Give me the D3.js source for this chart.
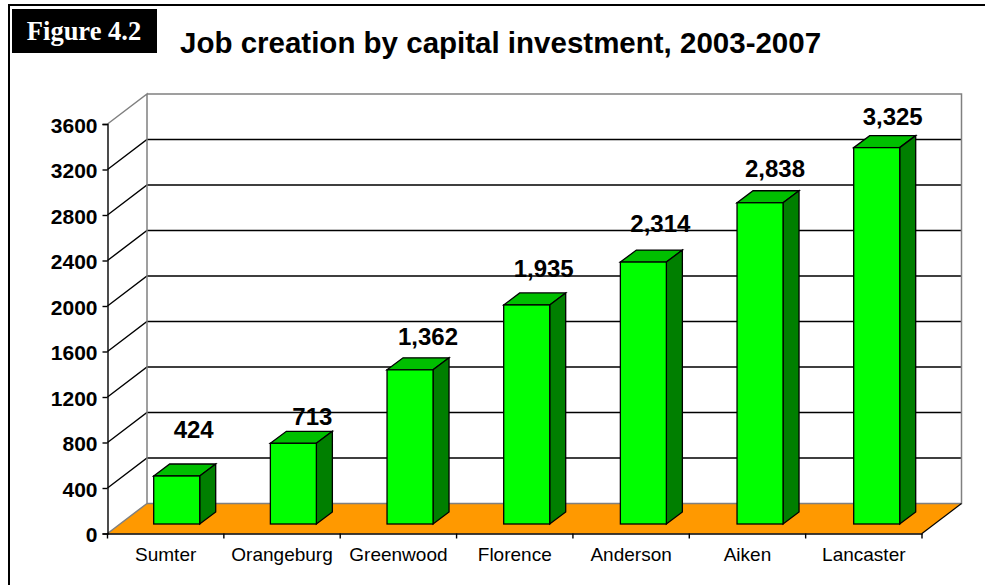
<!DOCTYPE html>
<html>
<head>
<meta charset="utf-8">
<script src="https://cdn.jsdelivr.net/npm/d3@7/dist/d3.min.js"></script>
<style>
html, body { margin: 0; padding: 0; background: #fff; }
svg { display: block; }
text { font-family: "Liberation Sans", Arial, sans-serif; fill: #000; }
</style>
</head>
<body>
<svg id="chart" width="985" height="585"></svg>
<script>
const counties = ["Sumter", "Orangeburg", "Greenwood", "Florence", "Anderson", "Aiken", "Lancaster"];
const jobs = [424, 713, 1362, 1935, 2314, 2838, 3325];
const yTicks = [0, 400, 800, 1200, 1600, 2000, 2400, 2800, 3200, 3600];

// Per-bar hand placement of the value labels
const labelLift = [38, 18, 25, 28, 30, 26, 23];
const labelShift = [0, 2, 1, 0, 0, -2, -1];

const svg = d3.select("#chart");
const depth = { dx: 39.5, dy: -30 };
const barDepth = { dx: 16, dy: -12 };
const barWidth = 46;

const x = d3.scaleBand().domain(counties).range([107.5, 922]);
const y = d3.scaleLinear().domain([0, 3600]).range([533.5, 124]);
const barX = d3.scalePoint().domain(counties).range([153.7, 853.7]);
const barY = d3.scaleLinear().domain([0, 3600]).range([524, 116.5]);
const fmt = d3.format(",");

// Page frame and figure tag
svg.append("path").attr("d", "M9,585V5H985").attr("fill", "none").attr("stroke", "#000").attr("stroke-width", 2);
svg.append("rect").attr("x", 12).attr("y", 9).attr("width", 145).attr("height", 44).attr("fill", "#000");
svg.append("text").attr("x", 84).attr("y", 40).attr("text-anchor", "middle")
  .style("font-family", "'Liberation Serif', serif")
  .attr("font-weight", "bold").attr("font-size", 26.5).style("fill", "#fff").text("Figure 4.2");
svg.append("text").attr("x", 180).attr("y", 53).attr("font-weight", "bold").attr("font-size", 29.5)
  .text("Job creation by capital investment, 2003-2007");

const x0 = x.range()[0], x1 = x.range()[1];
const y0 = y(0), yTop = y(3600);

// Floor
svg.append("path")
  .attr("d", `M${x0},${y0}L${x0 + depth.dx},${y0 + depth.dy}H${x1 + depth.dx}L${x1},${y0}Z`)
  .attr("fill", "#ff9900");

// Gridlines on the side and back walls
const grid = svg.append("g");
yTicks.filter(t => t > 0 && t < 3600).forEach(t => {
  grid.append("path")
    .attr("d", `M${x0},${y(t)}l${depth.dx},${depth.dy}H${x1 + depth.dx}`)
    .attr("fill", "none").attr("stroke", "#000").attr("stroke-width", 1.4);
});

// Wall outlines
svg.append("path")
  .attr("d", `M${x0},${y0}L${x0 + depth.dx},${y0 + depth.dy}V${yTop + depth.dy}L${x0},${yTop}
              M${x0 + depth.dx},${yTop + depth.dy}H${x1 + depth.dx}V${y0 + depth.dy}H${x0 + depth.dx}`)
  .attr("fill", "none").attr("stroke", "#808080").attr("stroke-width", 1.5);

// Front-right edge of the floor
svg.append("path").attr("d", `M${x1},${y0}L${x1 + depth.dx},${y0 + depth.dy}`)
  .attr("fill", "none").attr("stroke", "#000").attr("stroke-width", 1.2);

// Bars drawn as three faces
const bars = svg.append("g").selectAll("g").data(counties).join("g");
const faceStyle = sel => sel.attr("stroke", "#000").attr("stroke-width", 1.3).attr("stroke-linejoin", "miter");
bars.each(function (c, i) {
  const g = d3.select(this);
  const l = barX(c), r = l + barWidth, t = barY(jobs[i]), b = barY(0);
  g.append("path").attr("d", `M${l},${t}l${barDepth.dx},${barDepth.dy}H${r + barDepth.dx}L${r},${t}Z`)
    .attr("fill", "#00bf00").call(faceStyle);
  g.append("path").attr("d", `M${r},${t}l${barDepth.dx},${barDepth.dy}V${b + barDepth.dy}L${r},${b}Z`)
    .attr("fill", "#007f00").call(faceStyle);
  g.append("rect").attr("x", l).attr("y", t).attr("width", barWidth).attr("height", b - t)
    .attr("fill", "#00ff00").call(faceStyle);
});

// Value labels
svg.append("g").selectAll("text").data(counties).join("text")
  .attr("x", (c, i) => barX(c) + barWidth / 2 + 17 + labelShift[i])
  .attr("y", (c, i) => barY(jobs[i]) - labelLift[i])
  .attr("text-anchor", "middle").attr("font-weight", "bold").attr("font-size", 24)
  .text((c, i) => fmt(jobs[i]));

// Axes
const yAxis = d3.axisLeft(y).tickValues(yTicks).tickSize(5).tickPadding(5).tickFormat(d3.format("d"));
const yG = svg.append("g").attr("transform", `translate(${x0},0)`).call(yAxis);
yG.attr("font-family", null);
yG.selectAll("text").attr("font-weight", "bold").attr("font-size", 21).attr("dy", "0.39em");
yG.selectAll("line,path").attr("stroke", "#000").attr("stroke-width", 1.4);

const xAxis = d3.axisBottom(x).tickSize(0).tickPadding(14);
const xG = svg.append("g").attr("transform", `translate(0,${y0})`).call(xAxis);
xG.attr("font-family", null);
xG.selectAll("text").attr("font-size", 19);
xG.selectAll("path").attr("stroke", "#000").attr("stroke-width", 1.4);
const edges = d3.range(counties.length).map(i => x(counties[i])).concat(x1);
xG.selectAll("line.edge").data(edges).join("line").attr("class", "edge")
  .attr("x1", d => d).attr("x2", d => d).attr("y1", 0).attr("y2", 5)
  .attr("stroke", "#000").attr("stroke-width", 1.4);
</script>
</body>
</html>
